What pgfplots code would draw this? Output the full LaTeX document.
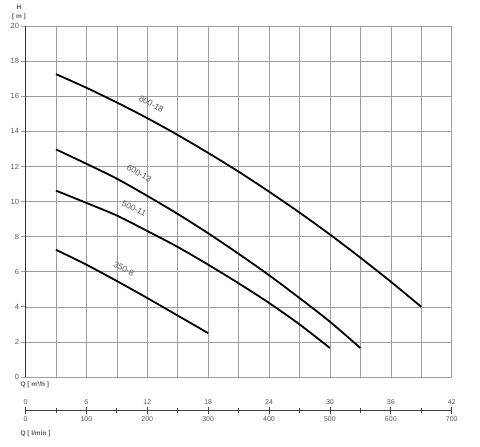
\documentclass[border=0pt]{standalone}
\usepackage{pgfplots}
\pgfplotsset{compat=1.18}
\usepackage{fontspec}
\setmainfont{Liberation Sans}
\definecolor{gridc}{gray}{0.62}
\definecolor{txtc}{gray}{0.35}
\begin{document}
\begin{tikzpicture}[x=1pt,y=1pt]
\useasboundingbox (0,0) rectangle (480,447);
\begin{axis}[
  at={(25.5pt,70pt)}, anchor=south west,
  scale only axis, width=426.2pt, height=351pt,
  xmin=0, xmax=42, ymin=0, ymax=20,
  xtick={0,3,...,42}, xticklabel=\empty,
  x tick style={draw=none},
  ytick={0,2,...,20},
  y tick style={gridc, line width=0.6pt},
  tick align=outside, major tick length=4pt,
  ytick pos=left,
  yticklabel style={font=\fontsize{7.5}{8}\selectfont, text=txtc, xshift=1pt},
  /pgf/number format/assume math mode=true,
  grid=major,
  major grid style={gridc, line width=0.55pt},
  axis line style={gridc, line width=0.6pt},
  clip=false,
]
\addplot[black, line width=1.8pt, smooth] coordinates {
(3,17.26) (6,16.48) (9,15.64) (12,14.75) (15,13.79) (18,12.77) (21,11.70) (24,10.56) (27,9.37) (30,8.12) (33,6.80) (36,5.43) (39,4.0)};
\addplot[black, line width=1.8pt, smooth] coordinates {
(3,12.97) (6,12.15) (9,11.3) (12,10.32) (15,9.29) (18,8.19) (21,7.02) (24,5.8) (27,4.5) (30,3.15) (33,1.65)};
\addplot[black, line width=1.8pt, smooth] coordinates {
(3,10.62) (6,9.92) (9,9.2) (12,8.32) (15,7.41) (18,6.4) (21,5.34) (24,4.22) (27,3.0) (30,1.65)};
\addplot[black, line width=1.8pt, smooth] coordinates {
(3,7.25) (6,6.4) (9,5.47) (12,4.5) (15,3.5) (18,2.5)};
\draw[gray!40!black, line width=1.5pt] (axis cs:0,0) -- (axis cs:0,20);
\node[rotate=-28, text=txtc, font=\fontsize{8.5}{9}\selectfont] at (axis cs:12.4,15.55) {800-18};
\node[rotate=-29, text=txtc, font=\fontsize{8.5}{9}\selectfont] at (axis cs:11.2,11.6) {600-13};
\node[rotate=-27, text=txtc, font=\fontsize{8.5}{9}\selectfont] at (axis cs:10.7,9.6) {500-11};
\node[rotate=-28, text=txtc, font=\fontsize{8.5}{9}\selectfont] at (axis cs:9.7,6.18) {350-8};
\end{axis}
% secondary axis: l/min below
\begin{axis}[
  at={(25.5pt,36.3pt)}, anchor=south west,
  scale only axis, width=426.2pt, height=10pt,
  xmin=0, xmax=42, ymin=0, ymax=1,
  hide y axis,
  axis x line*=bottom,
  axis line style={-, black!75, line width=0.8pt},
  xtick={0,6,...,42},
  xticklabels={0,100,200,300,400,500,600,700},
  minor xtick={3,9,...,39},
  tick align=center, major tick length=7pt, minor tick length=5pt,
  tick style={black!75, line width=0.8pt},
  xticklabel style={font=\fontsize{7}{8}\selectfont, text=txtc, yshift=1pt},
]
\end{axis}
% secondary axis: m3/h above
\begin{axis}[
  at={(25.5pt,36.3pt)}, anchor=north west,
  scale only axis, width=426.2pt, height=10pt,
  xmin=0, xmax=42, ymin=0, ymax=1,
  hide y axis,
  axis x line*=top,
  axis line style={-, black!75, line width=0.8pt},
  xtick={0,6,...,42},
  xticklabels={0,6,12,18,24,30,36,42},
  tick align=center, major tick length=7pt,
  tick style={black!75, line width=0.8pt},
  xticklabel style={font=\fontsize{7}{8}\selectfont, text=txtc, yshift=-1pt},
]
\end{axis}
\node[anchor=west, font=\fontsize{6.5}{7}\selectfont\bfseries, text=txtc] at (17,62) {Q [ m³/h ]};
\node[anchor=west, font=\fontsize{6.5}{7}\selectfont\bfseries, text=txtc] at (17,13) {Q [ l/min ]};
\node[font=\fontsize{6.5}{7}\selectfont\bfseries, text=txtc] at (19,440) {H};
\node[font=\fontsize{6.5}{7}\selectfont\bfseries, text=txtc] at (19,430) {[ m ]};
\end{tikzpicture}
\end{document}
